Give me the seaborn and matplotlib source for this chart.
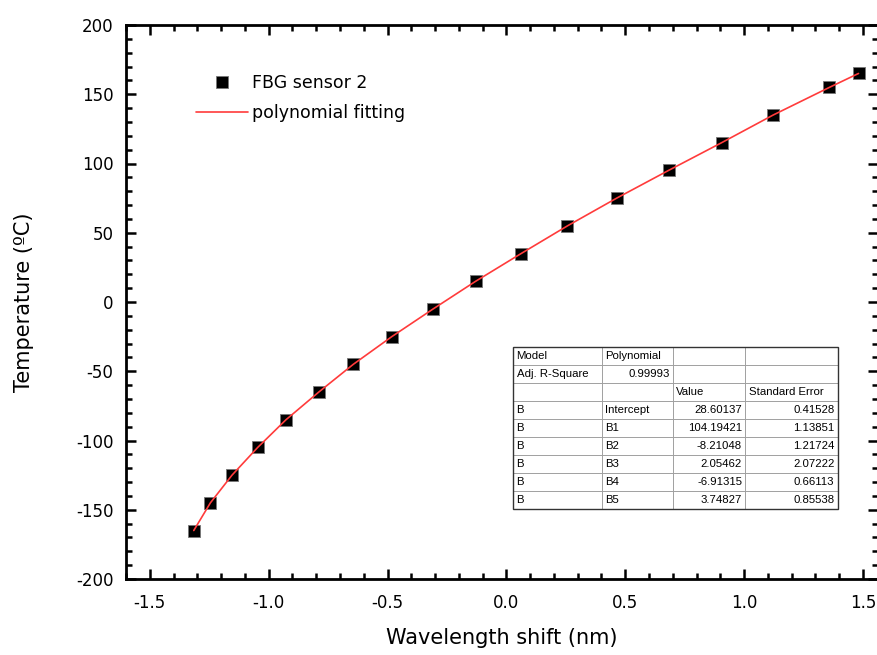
import numpy as np
import pandas as pd
import seaborn as sns
import matplotlib.pyplot as plt
from matplotlib.ticker import MultipleLocator

# -- data -- #
wavelength_shift = [-1.315, -1.245, -1.154, -1.046, -0.927, -0.789, -0.644, -0.482, -0.308,
                    -0.129, 0.062, 0.257, 0.464, 0.682, 0.905, 1.122, 1.359, 1.481]
temperature = [-165, -145, -125, -105, -85, -65, -45, -25, -5,
               15, 35, 55, 75, 95, 115, 135, 155, 165]

# -- fit summary table -- #
tbl_col1 = ['Model', 'Adj. R-Square', '', 'B', 'B', 'B', 'B', 'B', 'B']
tbl_col2 = ['Polynomial', '0.99993', '', 'Intercept', 'B1', 'B2', 'B3', 'B4', 'B5']
tbl_col3 = ['', '', 'Value', '28.60137', '104.19421', '-8.21048', '2.05462', '-6.91315', '3.74827']
tbl_col4 = ['', '', 'Standard Error', '0.41528', '1.13851', '1.21724', '2.07222', '0.66113', '0.85538']

data = pd.DataFrame({'shift': wavelength_shift, 'temp': temperature})

sns.set_style('ticks')
plt.rcParams['font.family'] = ['DejaVu Sans']
plt.rcParams['axes.unicode_minus'] = False
plt.rcParams['text.color'] = 'black'
plt.rcParams['axes.labelcolor'] = 'black'
plt.rcParams['xtick.color'] = 'black'
plt.rcParams['ytick.color'] = 'black'

fig = plt.figure(figsize=(8.78, 6.55), dpi=100)
ax = fig.add_axes([126/878, 1-579/655, 752/878, 554/655])

sns.scatterplot(data=data, x='shift', y='temp', marker='s', s=80, color='black',
                edgecolor='#777777', linewidth=0.6, ax=ax, zorder=2)
sns.lineplot(data=data, x='shift', y='temp', color='#ff3b3b', linewidth=1.2, ax=ax, zorder=3)

ax.set_xlim(-1.60, 1.563)
ax.set_ylim(-200, 200)
ax.xaxis.set_major_locator(MultipleLocator(0.5))
ax.xaxis.set_minor_locator(MultipleLocator(0.1))
ax.yaxis.set_major_locator(MultipleLocator(50))
ax.yaxis.set_minor_locator(MultipleLocator(10))
ax.xaxis.set_major_formatter(plt.FormatStrFormatter('%.1f'))
ax.tick_params(which='both', direction='in', top=True, right=True, width=1.8, labelsize=12)
ax.tick_params(which='major', length=7)
ax.tick_params(which='minor', length=4)
ax.tick_params(axis='y', pad=9)
ax.tick_params(axis='x', pad=11)
for sp in ax.spines.values():
    sp.set_linewidth(2.0)
    sp.set_color('black')

ax.set_xlabel('Wavelength shift (nm)', fontsize=15, labelpad=11)
ax.set_ylabel('Temperature (ºC)', fontsize=15, labelpad=30)

# -- legend -- #
h_pts = plt.Line2D([], [], marker='s', color='black', linestyle='none', markersize=9,
                   markeredgecolor='#777777', markeredgewidth=0.6)
h_fit = plt.Line2D([], [], color='#ff3b3b', linewidth=1.2)
ax.legend([h_pts, h_fit], ['FBG sensor 2', 'polynomial fitting'], loc='upper left',
          bbox_to_anchor=(0.072, 0.94), frameon=False, fontsize=12.5,
          handlelength=3.0, handletextpad=0.25, labelspacing=0.72)

# -- fit summary table -- #
cells = [[a, b, c, d] for a, b, c, d in zip(tbl_col1, tbl_col2, tbl_col3, tbl_col4)]
tab = ax.table(cellText=cells, colWidths=[89, 71, 72, 93],
               bbox=[(513-126)/752, (579-509)/554, 325/752, 162/554], zorder=5)
tab.auto_set_font_size(False)
for (r, c), cell in tab.get_celld().items():
    cell.set_edgecolor('#999999')
    cell.set_linewidth(0.6)
    cell.set_facecolor('white')
    t = cell.get_text()
    t.set_fontsize(8.2)
    t.set_family('Liberation Sans')
    right = (c >= 2 and r >= 3) or (r == 1 and c == 1)
    cell.set_text_props(ha='right' if right else 'left')
    cell.PAD = 0.04
# dark outer border
x0, y0 = (513-126)/752, (579-509)/554
ax.add_patch(plt.Rectangle((x0, y0), 325/752, 162/554, transform=ax.transAxes,
                           fill=False, edgecolor='#333333', linewidth=1.0, zorder=6))

fig.savefig('out.png', dpi=100)
